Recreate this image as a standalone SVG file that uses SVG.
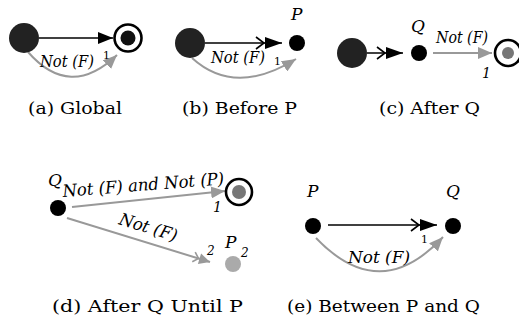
<svg xmlns="http://www.w3.org/2000/svg" width="519" height="323" viewBox="0 0 519 323">
<style>
.big{fill:#222}
.dot{fill:#000}
.gdot{fill:#aaa}
.ring{fill:#fff;stroke:#000;stroke-width:2.6}
.in-b{fill:#111}
.in-g{fill:#777}
.blk{stroke:#000;stroke-width:1.6;fill:none}
.gry{stroke:#999;stroke-width:2;fill:none}
.cap{font-family:'DejaVu Serif',serif;font-size:17px}
.lbl{font-family:'DejaVu Serif',serif;font-style:italic;font-size:17px}
.sup{font-family:'DejaVu Serif',serif;font-size:11px}
.supi{font-family:'DejaVu Serif',serif;font-style:italic;font-size:12px}
</style>
<defs>
<marker id="tri" viewBox="0 0 15 12" markerWidth="15" markerHeight="12" refX="15" refY="6" orient="auto" markerUnits="userSpaceOnUse"><path d="M0,0 L15,6 L0,12 z" fill="#000"/></marker>
<marker id="gtri" viewBox="0 0 14 12" markerWidth="14" markerHeight="12" refX="14" refY="6" orient="auto" markerUnits="userSpaceOnUse"><path d="M0,0 L14,6 L0,12 z" fill="#999"/></marker>
<marker id="dbl" viewBox="0 0 27 14" markerWidth="27" markerHeight="14" refX="27" refY="7" orient="auto" markerUnits="userSpaceOnUse"><polyline points="1,1 9,7 1,13" fill="none" stroke="#000" stroke-width="1.6"/><path d="M10,1 L27,7 L10,13 z" fill="#000"/></marker>
<marker id="gdbl" viewBox="0 0 18 12" markerWidth="18" markerHeight="12" refX="18" refY="6" orient="auto" markerUnits="userSpaceOnUse"><polyline points="1,1 6,6 1,11" fill="none" stroke="#999" stroke-width="1.6"/><path d="M7,0.5 L18,6 L7,11.5 z" fill="#999"/></marker>
</defs>

<g id="connectors">
<path class="blk" d="M39,38 L113,38" marker-end="url(#tri)"/>
<path class="gry" d="M28,52 Q70,100 117,55" marker-end="url(#gtri)"/>
<path class="blk" d="M205,43 L282,43" marker-end="url(#dbl)"/>
<path class="gry" d="M192,58 Q235,97 296,59" marker-end="url(#gtri)"/>
<path class="blk" d="M367,53 L403,53" marker-end="url(#dbl)"/>
<path class="gry" d="M433,53 L492,53" marker-end="url(#gtri)"/>
<path class="gry" d="M72,207 L225,191" marker-end="url(#gtri)"/>
<path class="gry" d="M67,218 L210,262" marker-end="url(#gdbl)"/>
<path class="blk" d="M328,225 L437,225" marker-end="url(#dbl)"/>
<path class="gry" d="M316,238 Q380,305 443,237" marker-end="url(#gtri)"/>
</g>

<g id="a-start"><circle class="big" cx="24" cy="38" r="15"/></g>
<g id="a-final"><circle class="ring" cx="128" cy="38" r="13.5"/><circle class="in-b" cx="128" cy="38" r="7.5"/></g>
<g id="a-labels">
<text class="lbl" x="40" y="67" textLength="54" lengthAdjust="spacingAndGlyphs">Not (F)</text>
<text class="sup" x="103" y="59">1</text>
<text class="cap" x="28" y="114" textLength="94" lengthAdjust="spacingAndGlyphs">(a) Global</text>
</g>

<g id="b-start"><circle class="big" cx="190" cy="43" r="15"/></g>
<g id="b-P"><circle class="dot" cx="297" cy="43" r="8"/><text class="lbl" x="291" y="20">P</text></g>
<g id="b-labels">
<text class="lbl" x="211" y="63" textLength="54" lengthAdjust="spacingAndGlyphs">Not (F)</text>
<text class="sup" x="274" y="65">1</text>
<text class="cap" x="182" y="114" textLength="115" lengthAdjust="spacingAndGlyphs">(b) Before P</text>
</g>

<g id="c-start"><circle class="big" cx="352" cy="53" r="15"/></g>
<g id="c-Q"><circle class="dot" cx="419" cy="53" r="8"/><text class="lbl" x="411" y="32">Q</text></g>
<g id="c-final"><circle class="ring" cx="508" cy="53" r="13"/><circle class="in-g" cx="508" cy="53" r="6"/></g>
<g id="c-labels">
<text class="lbl" x="436" y="43" textLength="52" lengthAdjust="spacingAndGlyphs">Not (F)</text>
<text class="supi" x="482" y="78" style="font-size:14px">1</text>
<text class="cap" x="379" y="114" textLength="101" lengthAdjust="spacingAndGlyphs">(c) After Q</text>
</g>

<g id="d-Q"><circle class="dot" cx="58" cy="208" r="8"/><text class="lbl" x="48" y="186">Q</text></g>
<g id="d-final"><circle class="ring" cx="239" cy="192" r="13"/><circle class="in-g" cx="239" cy="192" r="7"/></g>
<g id="d-P"><circle class="gdot" cx="233" cy="264" r="8"/><text class="lbl" x="225" y="248">P</text><text class="supi" x="241" y="257">2</text></g>
<g id="d-labels">
<text class="lbl" x="63" y="197" transform="rotate(-4.5 63 197)" textLength="162" lengthAdjust="spacingAndGlyphs">Not (F) and Not (P)</text>
<text class="supi" x="213" y="212" style="font-size:14px">1</text>
<text class="lbl" x="118" y="224" transform="rotate(17 118 224)" textLength="60" lengthAdjust="spacingAndGlyphs">Not (F)</text>
<text class="supi" x="207" y="255">2</text>
<text class="cap" x="52" y="312" textLength="191" lengthAdjust="spacingAndGlyphs">(d) After Q Until P</text>
</g>

<g id="e-P"><circle class="dot" cx="313" cy="226" r="8"/><text class="lbl" x="307" y="197">P</text></g>
<g id="e-Q"><circle class="dot" cx="453" cy="226" r="8"/><text class="lbl" x="446" y="197">Q</text></g>
<g id="e-labels">
<text class="sup" x="421" y="243">1</text>
<text class="lbl" x="348" y="263" textLength="62" lengthAdjust="spacingAndGlyphs">Not (F)</text>
<text class="cap" x="287" y="312" textLength="193" lengthAdjust="spacingAndGlyphs">(e) Between P and Q</text>
</g>
</svg>
